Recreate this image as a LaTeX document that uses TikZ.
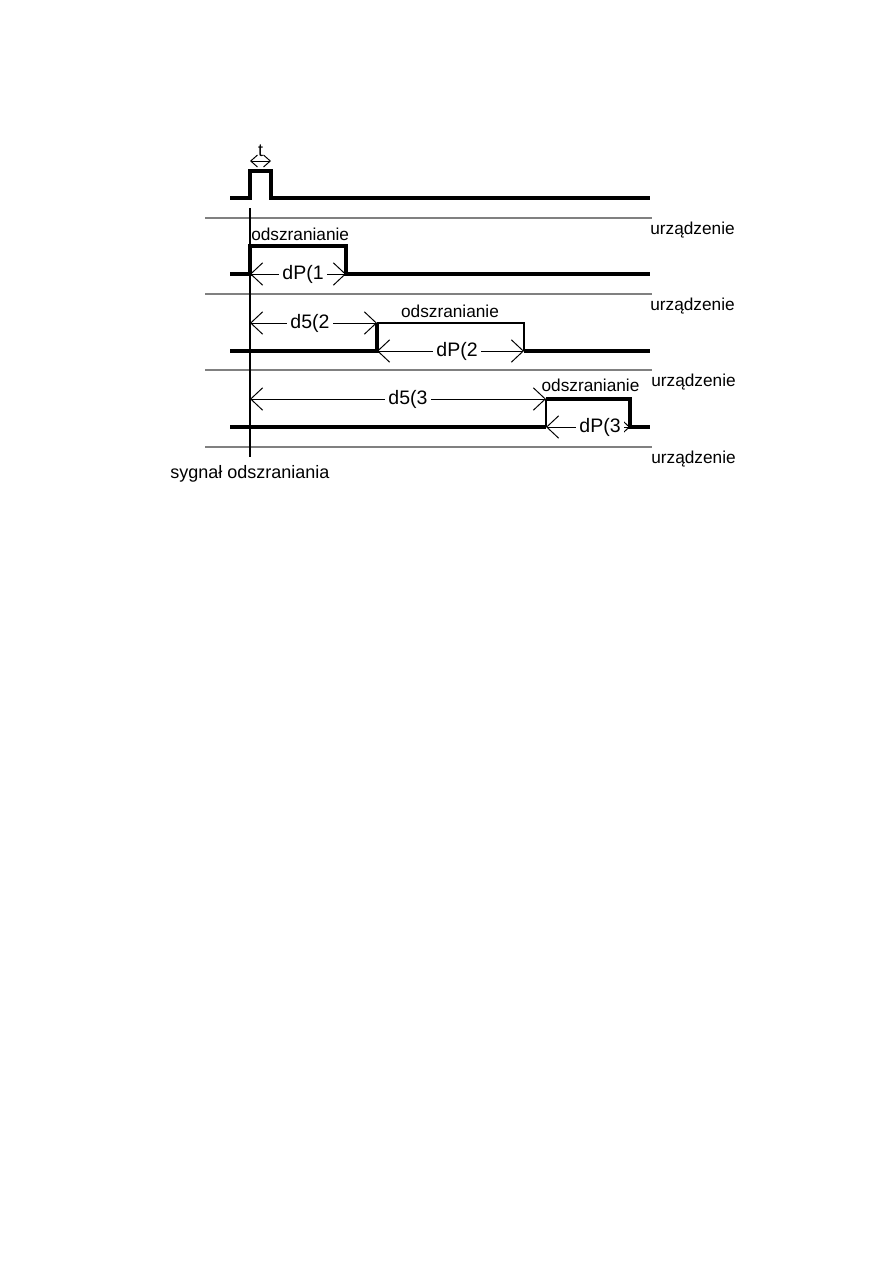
\documentclass[tikz,border=0pt]{standalone}
\usepackage{fontspec}
\setmainfont{Liberation Sans}
\usetikzlibrary{positioning, arrows.meta}

\begin{document}
\begin{tikzpicture}[x=0.6667pt, y=-0.6667pt,
  sig/.style={line width=2.1pt, line join=miter},
  fine/.style={line width=0.75pt},
  sep/.style={draw=gray, line width=0.7pt},
  dim/.style={{Straight Barb[length=8pt,width=15pt]}-{Straight Barb[length=8pt,width=15pt]}, line width=0.65pt},
  smalldim/.style={{Straight Barb[length=4.5pt,width=8pt]}-{Straight Barb[length=4.5pt,width=8pt]}, line width=0.65pt},
  lbl/.style={font=\fontsize{11.5}{13}\selectfont, inner sep=0pt},
  dimlbl/.style={fill=white, font=\fontsize{13}{15}\selectfont, inner sep=2pt}
]
\useasboundingbox (0,0) rectangle (893,1263);

% separators
\foreach \y in {218,294,370,447}
  \draw[sep] (205,\y) -- (652,\y);
\node[lbl, anchor=base west] (u1) at (650,234) {urządzenie};
\node[lbl, anchor=base west] (u2) at (650,310) {urządzenie};
\node[lbl, anchor=base west] (u3) at (651,386) {urządzenie};
\node[lbl, anchor=base west] (u4) at (651,463) {urządzenie};

% trigger line
\coordinate (trigtop) at (250,208);
\coordinate (trigbot) at (250,457);
\draw[fine] (trigtop) -- (trigbot);
\node[lbl, anchor=base west, font=\fontsize{12}{14}\selectfont] (sig) at (170,478) {sygnał odszraniania};

% impulse
\draw[sig] (230,198) -- (250,198) -- (250,171) -- (271,171) -- (271,198) -- (650,198);
\coordinate (t0) at (250,161);
\coordinate (t1) at (271,161);
\draw[smalldim] (t0) -- (t1);
\node[lbl, font=\fontsize{12}{14}\selectfont] (t) at (260.5,151) {t};

% device 1
\draw[sig] (230,274) -- (250,274) -- (250,246) -- (346,246) -- (346,274) -- (650,274);
\node[lbl, anchor=base west] (od1) at (251,240) {odszranianie};
\coordinate (p1a) at (250,274);
\coordinate (p1b) at (346,274);
\draw[dim] (p1a) -- (p1b);
\node[dimlbl] (dp1) at (303,274) {dP(1};

% device 2
\draw[sig] (230,351) -- (377,351) -- (377,323);
\draw[fine] (377,323) -- (524,323) -- (524,351);
\draw[sig] (524,351) -- (650,351);
\node[lbl, anchor=base] (od2) at (450,317) {odszranianie};
\coordinate (d2a) at (250,323);
\coordinate (d2b) at (377,323);
\draw[dim] (d2a) -- (d2b);
\node[dimlbl] (d52) at (310,323) {d5(2};
\coordinate (p2a) at (377,351);
\coordinate (p2b) at (524,351);
\draw[dim] (p2a) -- (p2b);
\node[dimlbl] (dp2) at (457,351) {dP(2};

% device 3
\draw[sig] (230,427) -- (546,427);
\draw[fine] (546,427) -- (546,399);
\draw[sig] (546,399) -- (630,399) -- (630,427) -- (650,427);
\node[lbl, anchor=base] (od3) at (590.5,391) {odszranianie};
\coordinate (d3a) at (250,399);
\coordinate (d3b) at (546,399);
\draw[dim] (d3a) -- (d3b);
\node[dimlbl] (d53) at (408,399) {d5(3};
\coordinate (p3a) at (546,427);
\coordinate (p3b) at (630,427);
\draw[dim] (p3a) -- (p3b);
\node[dimlbl] (dp3) at (600,427) {dP(3};
\end{tikzpicture}
\end{document}
